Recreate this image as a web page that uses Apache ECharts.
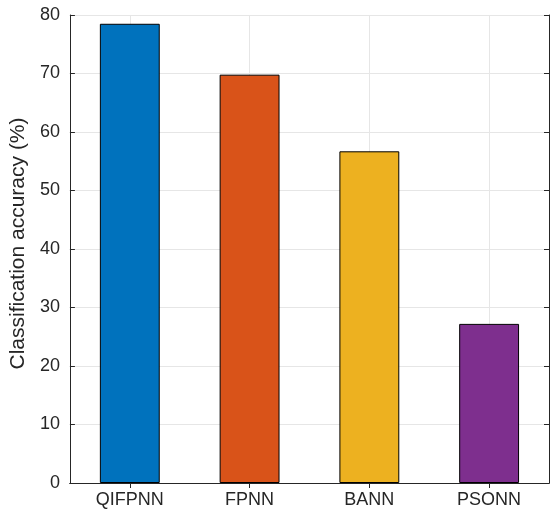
<!DOCTYPE html>
<html>
<head>
<meta charset="utf-8">
<script src="https://cdn.jsdelivr.net/npm/echarts@6/dist/echarts.min.js"></script>
<style>html,body{margin:0;padding:0;background:#fff;}#c{width:550px;height:515px;}</style>
</head>
<body>
<div id="c"></div>
<script>
const categories = ['QIFPNN', 'FPNN', 'BANN', 'PSONN'];
const accuracy = [78.5, 69.8, 56.7, 27.2];
const barColors = ['#0072BD', '#D95319', '#EDB120', '#7E2F8E'];
const yLabel = 'Classification accuracy (%)';

const txt = '#262626';
const font = 'Liberation Sans, Arial, Helvetica, sans-serif';
const chart = echarts.init(document.getElementById('c'), null, {renderer: 'canvas'});
chart.setOption({
  animation: false,
  backgroundColor: '#fff',
  grid: {left: 69, right: 1, top: 15, bottom: 32, containLabel: false},
  xAxis: [{
    type: 'category', data: categories, position: 'bottom',
    axisLine: {show: true, lineStyle: {color: txt, width: 1}},
    axisTick: {show: true, inside: true, alignWithLabel: true, length: 5, lineStyle: {color: txt}},
    axisLabel: {color: txt, fontSize: 18, fontFamily: font, margin: 8},
    splitLine: {show: true, alignWithLabel: true, lineStyle: {color: '#e6e6e6', width: 1}}
  }, {
    type: 'category', data: categories, position: 'top',
    axisLine: {show: true, lineStyle: {color: txt, width: 1}},
    axisTick: {show: true, inside: true, alignWithLabel: true, length: 5, lineStyle: {color: txt}},
    axisLabel: {show: false},
    splitLine: {show: false}
  }],
  yAxis: [{
    type: 'value', min: 0, max: 80, interval: 10, position: 'left',
    name: yLabel, nameLocation: 'middle', nameRotate: 90, nameGap: 36,
    nameTextStyle: {color: txt, fontSize: 21, fontFamily: font, padding: [0, 0, 0, 11]},
    axisLine: {show: true, lineStyle: {color: txt, width: 1}},
    axisTick: {show: true, inside: true, length: 5, lineStyle: {color: txt}},
    axisLabel: {color: txt, fontSize: 18, fontFamily: font, margin: 10},
    splitLine: {show: true, lineStyle: {color: '#e6e6e6', width: 1}}
  }, {
    type: 'value', min: 0, max: 80, interval: 10, position: 'right',
    axisLine: {show: true, lineStyle: {color: txt, width: 1}},
    axisTick: {show: true, inside: true, length: 5, lineStyle: {color: txt}},
    axisLabel: {show: false},
    splitLine: {show: false}
  }],
  series: [{
    type: 'bar', xAxisIndex: 0, yAxisIndex: 0,
    barWidth: '50%',
    data: accuracy.map((v, i) => ({value: v, itemStyle: {color: barColors[i]}})),
    itemStyle: {borderColor: '#000', borderWidth: 1}
  }]
});
</script>
</body>
</html>
